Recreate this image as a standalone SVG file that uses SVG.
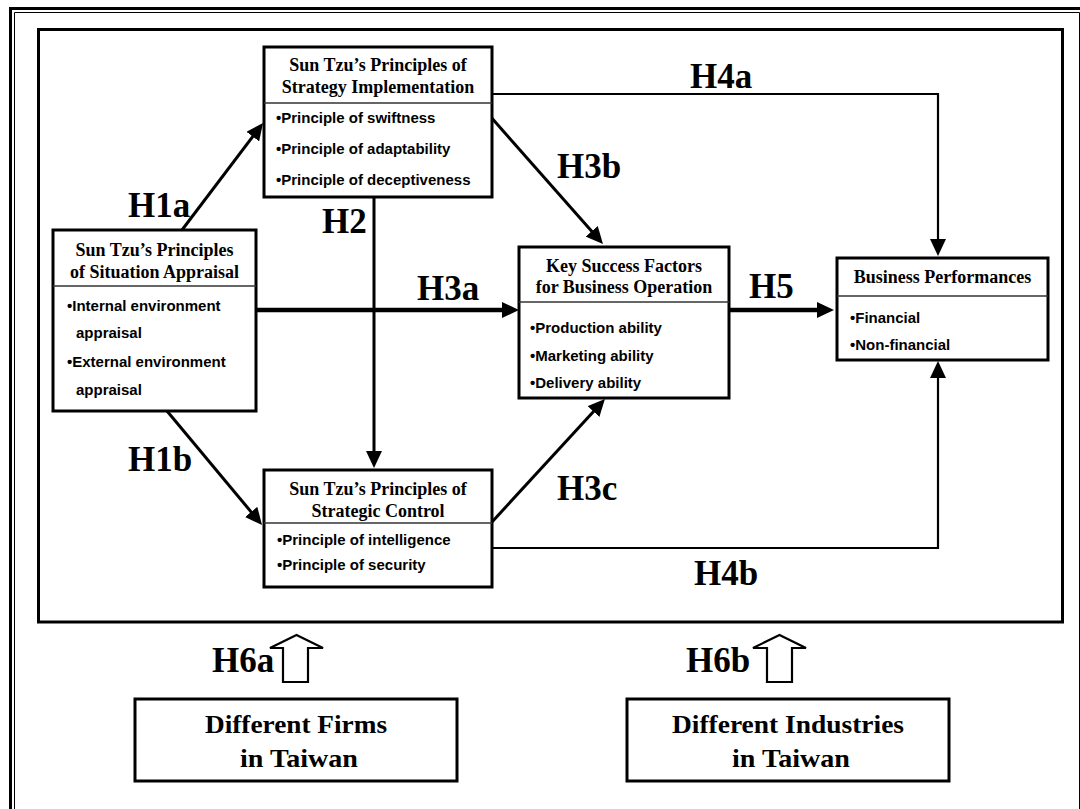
<svg xmlns="http://www.w3.org/2000/svg" width="1080" height="809" viewBox="0 0 1080 809">
  <style>
    .frame { fill: none; stroke: #000; }
    .box { fill: #fff; stroke: #000; stroke-width: 3; }
    .div { stroke: #333; stroke-width: 1.3; }
    .title { font-family: "Liberation Serif", "Times New Roman", serif; font-weight: bold; font-size: 18px; text-anchor: middle; fill: #000; }
    .item { font-family: "Liberation Sans", Arial, sans-serif; font-weight: bold; font-size: 15px; fill: #000; }
    .hyp { font-family: "Liberation Serif", "Times New Roman", serif; font-weight: bold; font-size: 35px; fill: #000; }
    .big { font-family: "Liberation Serif", "Times New Roman", serif; font-weight: bold; font-size: 25px; text-anchor: middle; fill: #000; }
    .link { fill: none; stroke: #000; stroke-width: 3; marker-end: url(#head); }
    .thin { stroke-width: 2.2; }
    .heavy { stroke-width: 4.5; }
    .block { fill: #fff; stroke: #000; stroke-width: 2.2; stroke-linejoin: miter; }
  </style>
  <defs>
    <marker id="head" markerUnits="userSpaceOnUse" markerWidth="17" markerHeight="16" refX="11" refY="8" orient="auto">
      <path d="M0,0 L17,8 L0,16 z" fill="#000"/>
    </marker>
  </defs>

  <rect width="1080" height="809" fill="#fff"/>

  <!-- page frame: heavy outer rule and fine inner rule -->
  <path class="frame" d="M10.5,820 V8.5 H1090" stroke-width="3"/>
  <path class="frame" d="M14.5,820 V12.5 H1079.5 V820" stroke-width="1" stroke="#777"/>

  <!-- model frame -->
  <rect class="frame" x="38.5" y="29.5" width="1024" height="592.5" stroke-width="3"/>

  <!-- connectors -->
  <g id="connectors">
    <path class="link" d="M182,230 L259.4,127.8"/>
    <path class="link" d="M167,411 L258.2,520.4"/>
    <path class="link" d="M374,197 V462"/>
    <path class="link heavy" d="M256,310 H513"/>
    <path class="link" d="M490,116 L599,239.5"/>
    <path class="link" d="M492,522 L600.9,403.4"/>
    <path class="link thin" d="M492,94 H938 V250"/>
    <path class="link thin" d="M492,548 H938 V367"/>
    <path class="link heavy" d="M729,310 H828"/>
    <polygon class="block" points="283,682 283,648 270,648 296.5,635 323,648 308,648 308,682"/>
    <polygon class="block" points="767,682 767,648 753,648 779.5,635 806,648 792,648 792,682"/>
  </g>

  <!-- hypothesis labels -->
  <g id="labels">
    <text class="hyp" x="128" y="217">H1a</text>
    <text class="hyp" x="128" y="471">H1b</text>
    <text class="hyp" x="322" y="233">H2</text>
    <text class="hyp" x="417" y="300">H3a</text>
    <text class="hyp" x="557" y="178">H3b</text>
    <text class="hyp" x="557" y="500">H3c</text>
    <text class="hyp" x="690" y="88">H4a</text>
    <text class="hyp" x="694" y="585">H4b</text>
    <text class="hyp" x="749" y="298">H5</text>
    <text class="hyp" x="212" y="672">H6a</text>
    <text class="hyp" x="686" y="672">H6b</text>
  </g>

  <g id="strategy-implementation">
    <rect class="box" x="264" y="47" width="228" height="150"/>
    <line class="div" x1="264" y1="103" x2="492" y2="103"/>
    <text class="title" x="378" y="71">Sun Tzu’s Principles of</text>
    <text class="title" x="378" y="93">Strategy Implementation</text>
    <text class="item" x="276" y="123">•Principle of swiftness</text>
    <text class="item" x="276" y="154">•Principle of adaptability</text>
    <text class="item" x="276" y="185">•Principle of deceptiveness</text>
  </g>

  <g id="situation-appraisal">
    <rect class="box" x="53" y="230" width="203" height="181"/>
    <line class="div" x1="53" y1="286" x2="256" y2="286"/>
    <text class="title" x="154.5" y="256">Sun Tzu’s Principles</text>
    <text class="title" x="154.5" y="278">of Situation Appraisal</text>
    <text class="item" x="67" y="311">•Internal environment</text>
    <text class="item" x="76" y="338">appraisal</text>
    <text class="item" x="67" y="367">•External environment</text>
    <text class="item" x="76" y="395">appraisal</text>
  </g>

  <g id="key-success-factors">
    <rect class="box" x="519" y="247" width="210" height="151"/>
    <line class="div" x1="519" y1="302" x2="729" y2="302"/>
    <text class="title" x="624" y="272">Key Success Factors</text>
    <text class="title" x="624" y="293">for Business Operation</text>
    <text class="item" x="530" y="333">•Production ability</text>
    <text class="item" x="530" y="361">•Marketing ability</text>
    <text class="item" x="530" y="388">•Delivery ability</text>
  </g>

  <g id="business-performances">
    <rect class="box" x="837" y="258" width="211" height="102"/>
    <line class="div" x1="837" y1="296" x2="1048" y2="296"/>
    <text class="title" x="942.5" y="283">Business Performances</text>
    <text class="item" x="850" y="323">•Financial</text>
    <text class="item" x="850" y="350">•Non-financial</text>
  </g>

  <g id="strategic-control">
    <rect class="box" x="264" y="470" width="228" height="117"/>
    <line class="div" x1="264" y1="523" x2="492" y2="523"/>
    <text class="title" x="378" y="495">Sun Tzu’s Principles of</text>
    <text class="title" x="378" y="517">Strategic Control</text>
    <text class="item" x="277" y="545">•Principle of intelligence</text>
    <text class="item" x="277" y="570">•Principle of security</text>
  </g>

  <g id="different-firms">
    <rect class="box" x="135" y="699" width="322" height="82" stroke-width="4"/>
    <text class="big" x="296" y="733" textLength="182" lengthAdjust="spacingAndGlyphs">Different Firms</text>
    <text class="big" x="299" y="767" textLength="118" lengthAdjust="spacingAndGlyphs">in Taiwan</text>
  </g>

  <g id="different-industries">
    <rect class="box" x="627" y="699" width="322" height="82" stroke-width="4"/>
    <text class="big" x="788" y="733" textLength="232" lengthAdjust="spacingAndGlyphs">Different Industries</text>
    <text class="big" x="791" y="767" textLength="118" lengthAdjust="spacingAndGlyphs">in Taiwan</text>
  </g>
</svg>
